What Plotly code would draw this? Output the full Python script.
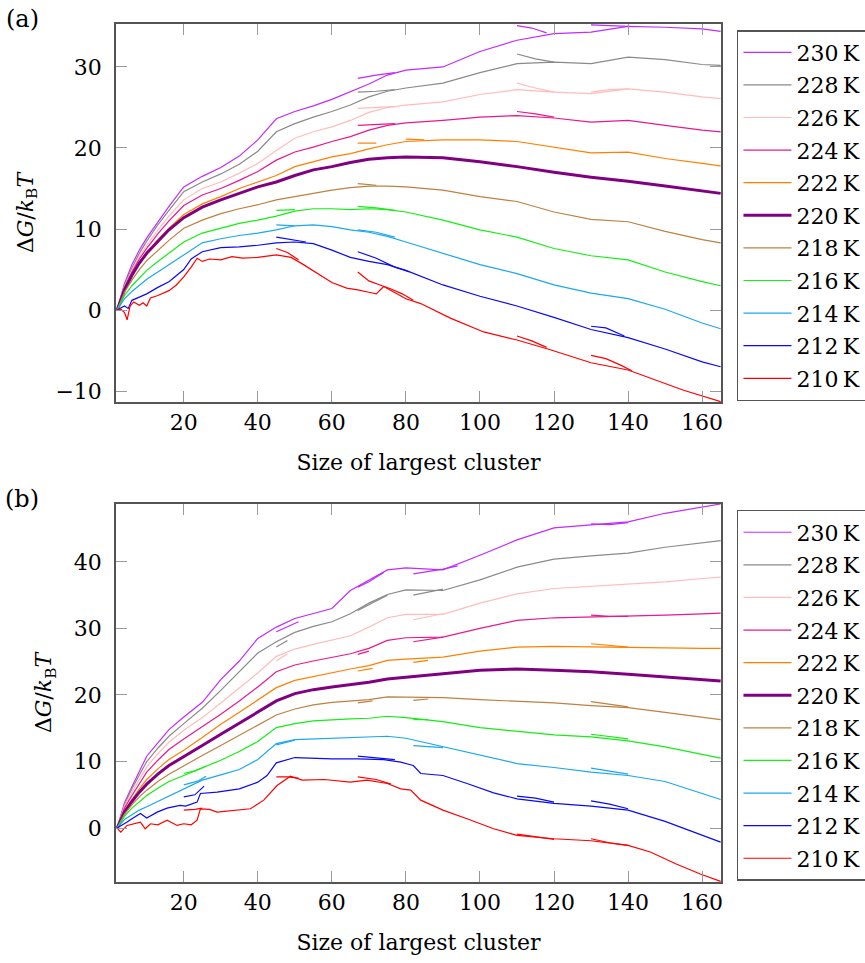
import plotly.graph_objects as go

# ---------------- data ----------------
TEMPS = [230, 228, 226, 224, 222, 220, 218, 216, 214, 212, 210]
COLORS = ['#C12BFF', '#8A8A8A', '#FFBCBC', '#E8188E', '#FF8000', '#800080',
          '#BF8040', '#14EE14', '#1CA8EC', '#0A0AF0', '#FF0000']
WIDTHS = [1.2, 1.2, 1.2, 1.2, 1.2, 3.0, 1.2, 1.2, 1.2, 1.2, 1.2]

XTICKS = [20, 40, 60, 80, 100, 120, 140, 160]
YTICKS_A = [-10, 0, 10, 20, 30]
YTICKS_B = [0, 10, 20, 30, 40]

X_GRID = [2, 4, 6, 8, 10, 13, 16, 20, 25, 30, 35, 40, 45, 50, 55, 60, 65, 70, 75, 80,
          90, 100, 110, 120, 130, 140, 150, 160, 165]

# panel (a)
a230 = [0, 3.3, 5.6, 7.4, 8.9, 10.9, 12.8, 15.2, 16.5, 17.6, 19.0, 21.0, 23.6, 24.5, 25.2, 26.0, 26.9, 27.9, 29.0, 29.6, 30.0, 31.9, 33.3, 34.1, 34.3, 35.0, 34.9, 34.7, 34.4]
a228 = [0, 3.1, 5.2, 7.0, 8.5, 10.5, 12.3, 14.6, 15.8, 16.8, 18.0, 19.6, 22.0, 23.0, 23.8, 24.5, 25.3, 26.3, 27.0, 27.4, 28.0, 29.3, 30.4, 30.6, 30.4, 31.2, 30.9, 30.3, 30.2]
a226 = [0, 2.9, 4.9, 6.6, 8.0, 9.9, 11.6, 13.6, 15.0, 15.8, 16.9, 18.1, 19.7, 21.2, 22.0, 22.6, 23.4, 24.4, 25.0, 25.3, 25.7, 26.6, 27.2, 26.9, 26.7, 27.3, 26.9, 26.3, 26.1]
a224 = [0, 2.8, 4.7, 6.3, 7.6, 9.4, 11.0, 12.9, 14.2, 15.0, 16.0, 17.1, 18.5, 19.5, 20.1, 20.8, 21.4, 22.2, 22.8, 23.1, 23.4, 23.8, 24.0, 23.7, 23.2, 23.4, 22.8, 22.2, 22.0]
a222 = [0, 2.6, 4.4, 5.9, 7.1, 8.7, 10.1, 11.8, 13.1, 14.0, 15.0, 15.8, 16.6, 17.7, 18.3, 18.9, 19.3, 19.9, 20.4, 20.8, 21.0, 21.0, 20.8, 20.1, 19.4, 19.5, 18.7, 18.1, 17.8]
a220 = [0, 2.5, 4.3, 5.8, 7.0, 8.5, 9.9, 11.4, 12.7, 13.6, 14.4, 15.2, 15.8, 16.6, 17.3, 17.7, 18.2, 18.6, 18.8, 18.9, 18.8, 18.3, 17.7, 17.0, 16.4, 15.9, 15.3, 14.7, 14.4]
a218 = [0, 2.2, 3.7, 5.0, 6.1, 7.4, 8.6, 10.1, 11.1, 11.9, 12.5, 13.0, 13.6, 14.0, 14.4, 14.8, 15.1, 15.3, 15.3, 15.2, 14.8, 14.0, 13.4, 12.1, 11.2, 10.9, 9.7, 8.7, 8.3]
a216 = [0, 1.8, 3.0, 4.0, 4.9, 6.0, 7.0, 8.4, 9.5, 10.1, 10.7, 11.1, 11.6, 12.2, 12.5, 12.5, 12.4, 12.5, 12.4, 12.1, 11.1, 9.9, 9.0, 7.6, 6.7, 6.2, 4.7, 3.5, 3.0]
a214 = [0, 1.4, 2.3, 3.1, 3.8, 4.7, 5.6, 6.9, 8.3, 8.8, 9.2, 9.5, 9.9, 10.4, 10.5, 10.3, 9.9, 9.6, 9.1, 8.4, 7.0, 5.6, 4.5, 3.1, 2.1, 1.4, 0.1, -1.6, -2.3]
x_a212 = [2, 3, 4, 5, 6, 8, 10, 13, 16, 20, 22, 25, 30, 35, 40, 45, 50, 55, 60, 65, 70, 75, 80, 90, 100, 110, 120, 130, 140, 150, 160, 165]
a212 = [0, 0.3, 0.5, 0.2, 1.2, 1.6, 2.0, 2.8, 3.5, 5.0, 6.3, 7.2, 7.7, 7.8, 8.0, 8.3, 8.4, 8.2, 7.4, 6.5, 6.0, 5.6, 4.9, 3.1, 1.7, 0.5, -0.9, -2.4, -3.4, -4.8, -6.4, -7.0]
x_a210 = [2, 3, 4, 4.7, 5.5, 6.5, 8, 9, 10, 11, 13, 16, 18, 20, 22, 23.6, 25, 27, 30, 33, 36, 40, 45, 49, 52, 56, 60, 64, 67, 70, 72, 74, 77, 80, 84, 92, 101, 110, 119, 130, 140, 146, 155, 165]
a210 = [0, 0.1, -0.3, -1.2, 0.5, 1.0, 0.6, 0.9, 0.5, 1.5, 1.8, 2.4, 3.1, 4.1, 5.3, 6.4, 6.0, 6.3, 6.2, 6.6, 6.4, 6.5, 6.8, 6.5, 5.7, 4.5, 3.4, 2.7, 2.5, 2.2, 2.0, 2.9, 2.1, 1.4, 0.8, -1.0, -2.7, -3.7, -4.9, -6.5, -7.4, -8.4, -9.9, -11.3]

# overlapping umbrella windows, panel (a): (temperature, x, y)
windows_a = [
    (230, [67, 72, 77], [28.6, 29.0, 29.3]),
    (230, [110, 114, 118], [35.1, 34.8, 34.2]),
    (230, [130, 135, 140], [35.2, 35.1, 35.0]),
    (228, [67, 72, 77], [26.9, 27.0, 27.2]),
    (228, [110, 115, 120], [31.6, 31.0, 30.6]),
    (226, [67, 72, 77], [24.9, 25.0, 25.1]),
    (226, [110, 115, 120], [28.0, 27.4, 26.9]),
    (226, [130, 135, 140], [26.9, 27.2, 27.3]),
    (224, [67, 72, 77], [22.8, 22.9, 23.0]),
    (224, [110, 115, 120], [24.5, 24.2, 23.8]),
    (222, [67, 72], [20.6, 20.6]),
    (222, [80, 85], [21.1, 21.0]),
    (218, [67, 72], [15.6, 15.4]),
    (216, [45, 50], [12.3, 12.4]),
    (216, [67, 72, 77], [12.8, 12.6, 12.3]),
    (214, [45, 50], [10.5, 10.4]),
    (214, [67, 72, 77], [9.9, 9.6, 9.0]),
    (212, [45, 49, 53], [9.0, 8.7, 8.4]),
    (212, [67, 72, 77, 81], [7.2, 6.4, 5.3, 4.7]),
    (212, [130, 134, 139], [-2.0, -2.2, -3.2]),
    (210, [45, 48, 51], [7.6, 7.1, 6.2]),
    (210, [67, 70, 73, 76, 79, 82], [4.7, 3.6, 3.1, 2.6, 2.0, 1.2]),
    (210, [110, 114, 118], [-3.2, -3.8, -4.6]),
    (210, [130, 134, 138, 141], [-5.6, -6.0, -6.8, -7.5]),
]

# panel (b)
b230 = [0, 3.8, 6.2, 8.5, 10.8, 12.8, 14.8, 16.7, 18.9, 22.3, 25.1, 28.5, 30.2, 31.5, 32.2, 33.0, 35.7, 37.3, 38.8, 39.1, 38.8, 41.0, 43.3, 45.1, 45.5, 46.0, 47.3, 48.2, 48.7]
b228 = [0, 3.6, 5.9, 8.0, 10.0, 12.0, 13.8, 15.7, 18.0, 20.7, 23.5, 26.3, 28.0, 29.4, 30.3, 31.0, 32.2, 33.8, 35.1, 35.8, 35.7, 37.3, 39.2, 40.4, 40.9, 41.3, 42.2, 42.9, 43.2]
b226 = [0, 3.3, 5.4, 7.4, 9.2, 11.2, 12.9, 14.7, 16.6, 18.8, 21.0, 23.3, 25.8, 26.9, 27.6, 28.2, 28.9, 30.2, 31.6, 32.1, 32.1, 33.8, 35.2, 36.0, 36.3, 36.6, 37.0, 37.5, 37.7]
b224 = [0, 3.0, 4.9, 6.7, 8.4, 10.2, 11.8, 13.4, 15.2, 17.1, 19.1, 21.2, 23.5, 24.5, 25.1, 25.7, 26.2, 27.0, 28.2, 28.6, 28.7, 30.0, 31.2, 31.6, 31.7, 31.8, 32.0, 32.2, 32.3]
b222 = [0, 2.6, 4.3, 5.9, 7.3, 8.9, 10.3, 11.7, 13.6, 15.6, 17.4, 19.3, 21.1, 22.2, 22.8, 23.4, 23.9, 24.4, 25.2, 25.4, 25.7, 26.6, 27.2, 27.3, 27.2, 27.1, 27.0, 27.0, 27.0]
b220 = [0, 2.4, 4.0, 5.4, 6.6, 8.1, 9.4, 10.7, 12.4, 14.1, 15.8, 17.4, 19.1, 20.2, 20.8, 21.2, 21.5, 21.9, 22.4, 22.7, 23.2, 23.7, 23.9, 23.7, 23.5, 23.1, 22.7, 22.3, 22.1]
b218 = [0, 2.1, 3.5, 4.7, 5.7, 7.0, 8.1, 9.4, 10.9, 12.4, 13.9, 15.4, 17.0, 17.9, 18.5, 18.9, 19.1, 19.3, 19.7, 19.7, 19.6, 19.3, 19.1, 18.8, 18.4, 18.1, 17.4, 16.7, 16.3]
b216 = [0, 1.8, 3.0, 4.0, 4.9, 6.0, 7.0, 7.9, 9.0, 10.2, 11.5, 13.0, 15.1, 15.7, 16.1, 16.3, 16.4, 16.5, 16.8, 16.6, 16.0, 15.1, 14.6, 14.0, 13.7, 13.1, 12.2, 11.1, 10.5]
b214 = [0, 1.3, 2.0, 2.7, 3.2, 4.0, 4.9, 5.9, 7.2, 8.0, 8.8, 10.3, 12.7, 13.3, 13.4, 13.4, 13.5, 13.7, 13.8, 13.5, 12.2, 10.9, 9.7, 9.1, 8.4, 7.9, 7.0, 5.2, 4.3]
x_b212 = [2, 3, 4.7, 6, 8.3, 10, 12.8, 15.5, 19, 20.5, 23.6, 24.5, 29, 35, 40, 42.5, 45, 50, 55, 60, 67, 74, 78.6, 82, 84, 90, 96.5, 103.7, 110, 120, 130, 140, 150, 160, 165]
b212 = [0, 0.3, 0.9, 1.4, 2.2, 1.5, 2.4, 3.0, 3.4, 3.3, 3.9, 5.2, 5.4, 5.9, 6.9, 7.9, 9.8, 10.6, 10.5, 10.4, 10.4, 10.3, 9.9, 9.4, 8.2, 7.9, 6.7, 5.3, 4.4, 3.7, 3.3, 2.7, 1.0, -1.0, -2.1]
x_b210 = [2, 3, 4.7, 6.5, 8.3, 9.6, 11, 13, 15.5, 18.2, 20, 22, 23.6, 24.5, 27, 29, 33, 38, 41.6, 45.2, 48.8, 52, 58, 65, 69.5, 75, 78.6, 81.3, 84, 90, 96.5, 103.7, 110, 120, 130, 140, 146, 153, 159.5, 165]
b210 = [0, -0.6, 0.4, 0.65, 0.9, -0.1, 0.65, 0.5, 1.2, 0.4, 0.65, 0.5, 1.2, 2.9, 2.8, 2.4, 2.6, 2.9, 4.2, 6.4, 7.8, 7.2, 7.3, 6.9, 7.2, 6.7, 5.9, 5.7, 4.2, 2.7, 1.4, -0.1, -1.1, -1.6, -1.9, -2.6, -3.6, -5.4, -6.9, -8.0]

windows_b = [
    (230, [45, 48, 51], [29.5, 30.3, 31.0]),
    (230, [67, 70, 74], [36.2, 37.0, 38.4]),
    (230, [82, 86, 90, 94], [38.2, 38.5, 38.9, 39.4]),
    (230, [130, 135, 140], [45.7, 45.6, 45.9]),
    (228, [45, 48], [27.2, 28.2]),
    (228, [67, 71, 75], [32.7, 33.9, 35.0]),
    (228, [82, 86, 90], [35.0, 35.4, 35.9]),
    (226, [45, 48], [25.1, 26.2]),
    (226, [82, 86, 90], [31.3, 31.7, 32.2]),
    (224, [67, 70], [26.1, 26.6]),
    (224, [82, 86, 90], [28.0, 28.3, 28.7]),
    (224, [130, 135, 140], [32.0, 31.8, 31.8]),
    (222, [67, 71], [23.6, 24.0]),
    (222, [82, 86], [24.9, 25.2]),
    (222, [130, 135, 140], [27.7, 27.4, 27.2]),
    (218, [67, 71], [18.8, 19.1]),
    (218, [82, 86], [19.2, 19.4]),
    (218, [130, 135, 140], [19.0, 18.6, 18.2]),
    (216, [20, 23, 26], [8.2, 8.6, 9.3]),
    (216, [82, 86], [16.3, 16.3]),
    (216, [130, 135, 140], [14.1, 13.8, 13.4]),
    (214, [20, 24, 26], [6.5, 7.1, 7.8]),
    (214, [45, 50], [12.5, 13.2]),
    (214, [82, 86, 90], [12.4, 12.3, 12.1]),
    (214, [130, 135, 140], [9.0, 8.6, 8.1]),
    (212, [20, 23, 25.5], [4.7, 5.0, 6.3]),
    (212, [67, 72, 77], [10.8, 10.6, 10.3]),
    (212, [110, 115, 120], [4.8, 4.5, 3.9]),
    (212, [130, 135, 140], [4.1, 3.6, 2.9]),
    (210, [20, 23, 25], [2.7, 2.8, 3.0]),
    (210, [45, 48, 51], [7.7, 7.7, 7.5]),
    (210, [67, 72, 76], [7.7, 7.3, 6.6]),
    (210, [110, 115, 120], [-0.9, -1.3, -1.7]),
    (210, [130, 135, 140], [-1.6, -2.2, -2.6]),
]

main_a = {230: (X_GRID, a230), 228: (X_GRID, a228), 226: (X_GRID, a226), 224: (X_GRID, a224),
          222: (X_GRID, a222), 220: (X_GRID, a220), 218: (X_GRID, a218), 216: (X_GRID, a216),
          214: (X_GRID, a214), 212: (x_a212, a212), 210: (x_a210, a210)}
main_b = {230: (X_GRID, b230), 228: (X_GRID, b228), 226: (X_GRID, b226), 224: (X_GRID, b224),
          222: (X_GRID, b222), 220: (X_GRID, b220), 218: (X_GRID, b218), 216: (X_GRID, b216),
          214: (X_GRID, b214), 212: (x_b212, b212), 210: (x_b210, b210)}

# ---------------- figure ----------------
FONT = "DejaVu Serif"
fig = go.Figure()


def add_panel(tag, xa, ya, legend, main, windows):
    for T, color, w in zip(TEMPS, COLORS, WIDTHS):
        xs, ys = main[T]
        fig.add_trace(go.Scatter(
            x=xs, y=ys, mode="lines", name=f"{T}\u2009K",
            line=dict(color=color, width=w),
            xaxis=xa, yaxis=ya, legend=legend, legendgroup=f"{tag}{T}",
            hoverinfo="skip"))
        for t, wx, wy in windows:
            if t == T:
                fig.add_trace(go.Scatter(
                    x=wx, y=wy, mode="lines", showlegend=False,
                    line=dict(color=color, width=w),
                    xaxis=xa, yaxis=ya, legendgroup=f"{tag}{T}",
                    hoverinfo="skip"))


add_panel("a", "x", "y", "legend", main_a, windows_a)
add_panel("b", "x2", "y2", "legend2", main_b, windows_b)

axis_common = dict(
    showgrid=False, zeroline=False, showline=True, linecolor="#555555", linewidth=1.5,
    mirror="ticks", ticks="inside", ticklen=11, tickwidth=1.2, tickcolor="#9a9a9a",
    tickfont=dict(family=FONT, size=22, color="black"),
)

def fmt(v):
    return f"\u2212{abs(v)}" if v < 0 else str(v)

xtitle = dict(text="Size of largest cluster", font=dict(family=FONT, size=22, color="black"), standoff=20)
ytitle = dict(text="Δ<i>G</i>/<i>k</i><sub>B</sub><i>T</i>", font=dict(family=FONT, size=22, color="black"), standoff=16)

legend_common = dict(
    xanchor="left", yanchor="top", bgcolor="white", bordercolor="#555555", borderwidth=1.5,
    font=dict(family=FONT, size=22, color="black"), tracegroupgap=1, itemwidth=48,
    itemclick=False, itemdoubleclick=False,
)

fig.update_layout(
    width=865, height=963,
    margin=dict(l=116, r=144, t=24, b=81, autoexpand=False),
    paper_bgcolor="white", plot_bgcolor="white",
    font=dict(family=FONT, size=22, color="black"),
    xaxis=dict(domain=[0, 1], anchor="y", range=[1.7, 165.1], tickvals=XTICKS,
               title=xtitle, **axis_common),
    yaxis=dict(domain=[0.5594, 1], anchor="x", range=[-11.35, 35.3], tickvals=YTICKS_A,
               ticktext=[fmt(v) for v in YTICKS_A], title=ytitle, ticklabelstandoff=8, **axis_common),
    xaxis2=dict(domain=[0, 1], anchor="y2", range=[1.7, 165.1], tickvals=XTICKS,
                title=xtitle, **axis_common),
    yaxis2=dict(domain=[0, 0.4406], anchor="x2", range=[-8.1, 48.7], tickvals=YTICKS_B,
                ticktext=[fmt(v) for v in YTICKS_B], title=ytitle, ticklabelstandoff=8, **axis_common),
    legend=dict(x=1.0264, y=0.993, **legend_common),
    legend2=dict(x=1.0264, y=0.4336, **legend_common),
    showlegend=True,
    annotations=[
        dict(text="(a)", xref="paper", yref="paper", x=-0.155, y=1.0058, showarrow=False,
             xanchor="center", yanchor="middle", font=dict(family=FONT, size=24, color="black")),
        dict(text="(b)", xref="paper", yref="paper", x=-0.155, y=0.4464, showarrow=False,
             xanchor="center", yanchor="middle", font=dict(family=FONT, size=24, color="black")),
    ],
)

fig.write_html("out.html")
